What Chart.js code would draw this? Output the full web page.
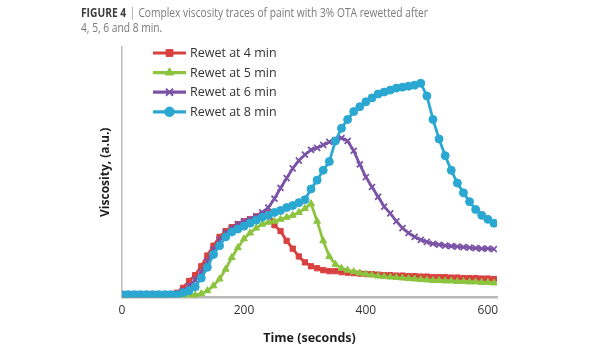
<!DOCTYPE html>
<html>
<head>
<meta charset="utf-8">
<script src="https://cdn.jsdelivr.net/npm/chart.js@4/dist/chart.umd.min.js"></script>
<style>
html,body{margin:0;padding:0;background:#fff;}
#wrap{position:relative;width:615px;height:350px;overflow:hidden;}
#cap{position:absolute;left:81px;top:5px;font-family:"Open Sans",sans-serif;font-size:12.5px;line-height:15px;color:#7a7a7a;white-space:nowrap;transform-origin:0 0;}
#cap b{color:#3c3c3c;}
#cap .bar{color:#999;padding:0 4px;}
canvas{position:absolute;left:0;top:0;}
</style>
</head>
<body>
<div id="wrap">
<canvas id="c" width="615" height="350"></canvas>
<div id="cap"><span id="l1"><b>FIGURE 4</b><span class="bar">|</span>Complex viscosity traces of paint with 3% OTA rewetted after</span><br>4, 5, 6 and 8 min.</div>
</div>
<script>
// ---- data ----
const times = [0,10,20,30,40,50,60,70,80,90,100,110,120,130,140,150,160,170,180,190,200,210,220,230,240,250,260,270,280,290,300,310,320,330,340,350,360,370,380,390,400,410,420,430,440,450,460,470,480,490,500,510,520,530,540,550,560,570,580,590,600,610];
const seriesNames = ["Rewet at 4 min","Rewet at 5 min","Rewet at 6 min","Rewet at 8 min"];
const rewet4 = [3,3,3,3,3,3,3,3,3.5,5,10,17,23,32,43,53,62,68,72,75,78,80,83,85,87,74,68,58,50,42,36,32,30,28,27,27,26,25.5,25,24.5,24,24,23.5,23,23,22.5,22.5,22,22,21.5,21.5,21,21,21,20.5,20.5,20,20,20,19.5,19.5,19];
const rewet5 = [2.5,2.5,2.5,2.5,2.5,2.5,2.5,2.5,2.5,2.5,2.5,2.5,2.5,4,7,12,19,29,41,51,60,66,71,75,77,78,80,82,84,87,91,96,78,58,42,34,30,28,26.5,25,24,23,22,21.5,21,20.5,20,19.5,19,18.5,18,17.5,17.5,17,17,16.5,16.5,16,16,15.5,15.5,15];
const rewet6 = [3.5,3.5,3.5,3.5,3.5,3.5,3.5,3.5,3.5,3.5,7,12,18,26,37,49,59,66,71,75,78,80,83,87,92,101,112,122,132,140,146,151,153,156,159,161,163,160,150,136,123,113,103,93,86,78,71,66,62,59,57,55,54,53,52.5,52,51.5,51,50.5,50,50,49.5];
const rewet8 = [3,3,3,3,3,3,3,3,3,3,5,7,11,20,31,44,53,62,67,70,73,76,79,82,84,87,89,92,94,97,100,111,120,130,139,160,173,182,190,195,200,204,208,210,212,214,215,216,217,219,206,182,162,145,130,117,107,98,90,84,80,76];
const xTickValues = [0,200,400,600];

const colors = ["#d8413f","#8cc43f","#7a52a6","#2aa8d2"];
const styles = ["rect","triangle","crossRot","circle"];
const radii = [3.7,4,4.2,4];
const values = [rewet4,rewet5,rewet6,rewet8];
const orders = [3,2,1,0];

// fit caption first line to reference width
(function(){
  const cap = document.getElementById('cap');
  const w = document.getElementById('l1').getBoundingClientRect().width;
  cap.style.transform = 'scaleX(' + (347 / w) + ')';
})();

const datasets = values.map((vals,i)=>({
  label: seriesNames[i],
  data: times.map((t,j)=>({x:t,y:vals[j]})),
  borderColor: colors[i],
  backgroundColor: colors[i],
  pointBackgroundColor: colors[i],
  pointBorderColor: colors[i],
  pointStyle: styles[i],
  pointRadius: radii[i],
  pointBorderWidth: i===2 ? 1.8 : 1,
  borderWidth: 2.8,
  tension: 0,
  order: orders[i]
}));

const legendPlugin = {
  id: 'inLegend',
  afterDraw(chart){
    const ctx = chart.ctx;
    chart.data.datasets.forEach((ds,i)=>{
      const y = 53 + i*19.6;
      ctx.save();
      ctx.strokeStyle = ds.borderColor;
      ctx.fillStyle = ds.borderColor;
      ctx.lineWidth = 3.2;
      ctx.beginPath(); ctx.moveTo(153,y); ctx.lineTo(186,y); ctx.stroke();
      ctx.lineWidth = i===2 ? 2 : 1;
      Chart.helpers.drawPoint(ctx,{pointStyle:ds.pointStyle,radius:i===2?5:4.8,borderWidth:ctx.lineWidth,rotation:0},169.5,y);
      ctx.fillStyle = '#333';
      ctx.font = '12.5px "Open Sans"';
      ctx.textBaseline = 'middle';
      ctx.textAlign = 'left';
      ctx.fillText(ds.label,190,y+0.5);
      ctx.restore();
    });
  }
};

new Chart(document.getElementById('c'),{
  type:'line',
  data:{datasets},
  options:{
    responsive:false,
    animation:false,
    devicePixelRatio:1,
    layout:{padding:{left:98.6,right:118,top:47,bottom:4}},
    plugins:{legend:{display:false},tooltip:{enabled:false}},
    scales:{
      x:{
        type:'linear',min:0,max:615,
        grid:{display:false,drawTicks:false},
        border:{display:true,color:'#b9b9b9',width:2.5},
        afterBuildTicks(scale){ scale.ticks = xTickValues.map(v=>({value:v})); },
        ticks:{padding:6,color:'#333',font:{family:'"Open Sans"',size:12}},
        title:{display:true,text:'Time (seconds)',color:'#1e1e1e',font:{family:'"Open Sans"',size:12.5,weight:'bold'},padding:{top:7,bottom:0}}
      },
      y:{
        type:'linear',min:0,max:256,
        grid:{display:false,drawTicks:false},
        border:{display:true,color:'#bdbdbd',width:1.5},
        ticks:{display:false},
        title:{display:true,text:'Viscosity, (a.u.)',color:'#1e1e1e',font:{family:'"Open Sans"',size:12,weight:'bold'},padding:{top:0,bottom:9}}
      }
    }
  },
  plugins:[legendPlugin]
});
</script>
</body>
</html>
